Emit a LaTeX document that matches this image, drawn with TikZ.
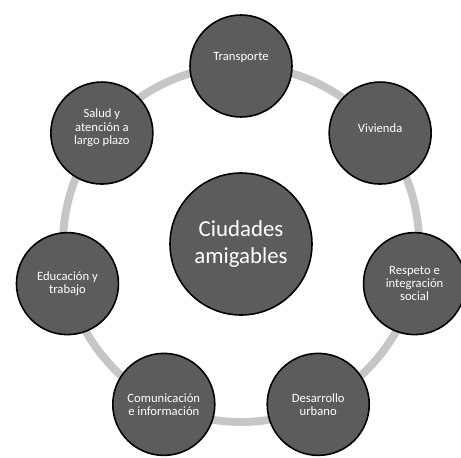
\documentclass[tikz,border=0pt]{standalone}
\usepackage{fontspec}
\setmainfont{Carlito}
\usetikzlibrary{positioning}
\definecolor{bubble}{HTML}{5C5C5C}
\definecolor{ringgray}{HTML}{C6C6C6}
\tikzset{topic/.style={circle,draw=black,line width=0.9pt,fill=bubble,text=white,
		minimum size=2.04cm,inner sep=0pt,align=center,
		font=\fontsize{7.2}{7.6}\selectfont},
	hub/.style={topic,minimum size=2.84cm,font=\fontsize{13}{15}\selectfont},
	lifted/.style={text depth=#1},
	ring/.style={draw=ringgray,line width=4.5pt}}

\begin{document}
\begin{tikzpicture}
\useasboundingbox (0,0) rectangle (9.22,9.14);
\clip (0,0) rectangle (9.22,9.14);
\node[hub] (ciudades) at (4.82,4.26) {Ciudades\\amigables};
\draw[ring] (ciudades.center) circle[radius=3.56cm];
\node[topic,lifted=10.5pt] (transporte) at ([shift={(90:3.56)}]ciudades.center) {Transporte};
\node[topic,lifted=5.6pt] (vivienda) at ([shift={(38.57:3.56)}]ciudades.center) {Vivienda};
\node[topic] (respeto) at ([shift={(-12.86:3.56)}]ciudades.center) {Respeto e\\integración\\social};
\node[topic] (desarrollo) at ([shift={(-64.29:3.56)}]ciudades.center) {Desarrollo\\urbano};
\node[topic] (comunicacion) at ([shift={(-115.71:3.56)}]ciudades.center) {Comunicación\\e información};
\node[topic] (educacion) at ([shift={(-167.14:3.56)}]ciudades.center) {Educación y\\trabajo};
\node[topic,lifted=7.2pt] (salud) at ([shift={(141.43:3.56)}]ciudades.center) {Salud y\\atención a\\largo plazo};
\end{tikzpicture}
\end{document}
